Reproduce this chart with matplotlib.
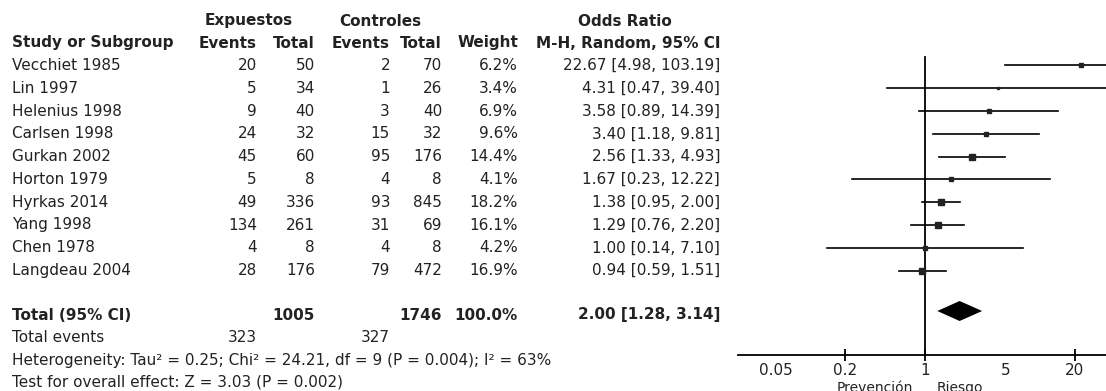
import numpy as np
import matplotlib
matplotlib.use("Agg")
import matplotlib.pyplot as plt

studies = ["Vecchiet 1985", "Lin 1997", "Helenius 1998", "Carlsen 1998", "Gurkan 2002",
           "Horton 1979", "Hyrkas 2014", "Yang 1998", "Chen 1978", "Langdeau 2004"]
exp_events = [20, 5, 9, 24, 45, 5, 49, 134, 4, 28]
exp_total = [50, 34, 40, 32, 60, 8, 336, 261, 8, 176]
ctl_events = [2, 1, 3, 15, 95, 4, 93, 31, 4, 79]
ctl_total = [70, 26, 40, 32, 176, 8, 845, 69, 8, 472]
weights = [6.2, 3.4, 6.9, 9.6, 14.4, 4.1, 18.2, 16.1, 4.2, 16.9]
odds = [22.67, 4.31, 3.58, 3.40, 2.56, 1.67, 1.38, 1.29, 1.00, 0.94]
ci_low = [4.98, 0.47, 0.89, 1.18, 1.33, 0.23, 0.95, 0.76, 0.14, 0.59]
ci_high = [103.19, 39.40, 14.39, 9.81, 4.93, 12.22, 2.00, 2.20, 7.10, 1.51]

pooled = (2.00, 1.28, 3.14)
heterogeneity = "Heterogeneity: Tau\u00b2 = 0.25; Chi\u00b2 = 24.21, df = 9 (P = 0.004); I\u00b2 = 63%"
overall = "Test for overall effect: Z = 3.03 (P = 0.002)"
tick_vals = [0.05, 0.2, 1, 5, 20]
tick_labels = ["0.05", "0.2", "1", "5", "20"]
favours = ("Prevención", "Riesgo")

plt.rcParams['font.family'] = 'DejaVu Sans'
ink = '#222222'
fs = 11

W, H = 1106, 391
fig = plt.figure(figsize=(W / 100, H / 100), dpi=100)

# table part: axes in pixel units, y down
tab = fig.add_axes([0, 0, 1, 1])
tab.set_xlim(0, W)
tab.set_ylim(H, 0)
tab.axis('off')

def put(x, y, s, ha='right', bold=False, size=fs):
    tab.text(x, y, s, ha=ha, va='center', fontsize=size, color=ink,
             fontweight='bold' if bold else 'normal')

# column right edges
c_ev1, c_tot1, c_ev2, c_tot2, c_w, c_or = 257, 315, 390, 442, 518, 720

put(249, 21, "Expuestos", ha='center', bold=True)
put(380, 21, "Controles", ha='center', bold=True)
put(625, 21, "Odds Ratio", ha='center', bold=True)
put(12, 43, "Study or Subgroup", ha='left', bold=True)
put(c_ev1, 43, "Events", bold=True)
put(c_tot1, 43, "Total", bold=True)
put(c_ev2, 43, "Events", bold=True)
put(c_tot2, 43, "Total", bold=True)
put(c_w, 43, "Weight", bold=True)
put(c_or, 43, "M-H, Random, 95% CI", bold=True)

row_y = 65.4 + 22.8 * np.arange(len(studies))
for i, y in enumerate(row_y):
    put(12, y, studies[i], ha='left')
    put(c_ev1, y, str(exp_events[i]))
    put(c_tot1, y, str(exp_total[i]))
    put(c_ev2, y, str(ctl_events[i]))
    put(c_tot2, y, str(ctl_total[i]))
    put(c_w, y, f"{weights[i]:.1f}%")
    put(c_or, y, f"{odds[i]:.2f} [{ci_low[i]:.2f}, {ci_high[i]:.2f}]")

y_tot = 315
put(12, y_tot, "Total (95% CI)", ha='left', bold=True)
put(c_tot1, y_tot, str(sum(exp_total)), bold=True)
put(c_tot2, y_tot, str(sum(ctl_total)), bold=True)
put(c_w, y_tot, f"{sum(weights):.1f}%", bold=True)
put(c_or, y_tot, f"{pooled[0]:.2f} [{pooled[1]:.2f}, {pooled[2]:.2f}]", bold=True)

put(12, 337, "Total events", ha='left')
put(c_ev1, 337, str(sum(exp_events)))
put(c_ev2, 337, str(sum(ctl_events)))
put(12, 360, heterogeneity, ha='left')
put(12, 382, overall, ha='left')

# forest plot: log scale, 115 px per decade, 1 at x=925
x0, x1, xc, dec = 738, 1106, 925, 115
ax_bottom = 355
ax = fig.add_axes([x0 / W, (H - ax_bottom) / H, (x1 - x0) / W, ax_bottom / H])
ax.patch.set_visible(False)
ax.set_xscale('log')
ax.set_xlim(10 ** ((x0 - xc) / dec), 10 ** ((x1 - xc) / dec))
ax.set_ylim(ax_bottom, 0)
for side in ['top', 'left', 'right']:
    ax.spines[side].set_visible(False)
ax.spines['bottom'].set_linewidth(1.3)
ax.spines['bottom'].set_color('black')
ax.set_yticks([])
ax.xaxis.set_minor_locator(matplotlib.ticker.NullLocator())
ax.set_xticks(tick_vals)
ax.set_xticklabels(tick_labels)
ax.tick_params(axis='x', direction='inout', length=9, width=1.3, pad=1,
               labelsize=fs, labelcolor=ink)
for t, v in zip(ax.xaxis.get_major_ticks(), tick_vals):
    if v in (0.05, 5):
        t.tick1line.set_visible(False)

ax.plot([1, 1], [57, ax_bottom], color='black', lw=1.3, clip_on=False)

for i, y in enumerate(row_y):
    ax.plot([ci_low[i], ci_high[i]], [y, y], color='black', lw=1.2)
    ax.plot(odds[i], y, marker='s', color='#222222', ms=np.sqrt(weights[i]) * 1.1,
            mec='#222222')

est, lo, hi = pooled
ax.fill([lo, est, hi, est], [y_tot - 4, y_tot - 14, y_tot - 4, y_tot + 6],
        color='black', lw=0)

tab.text(913, 388, favours[0], ha='right', va='center', fontsize=10, color=ink)
tab.text(937, 388, favours[1], ha='left', va='center', fontsize=10, color=ink)

fig.savefig('out.png', dpi=100)
